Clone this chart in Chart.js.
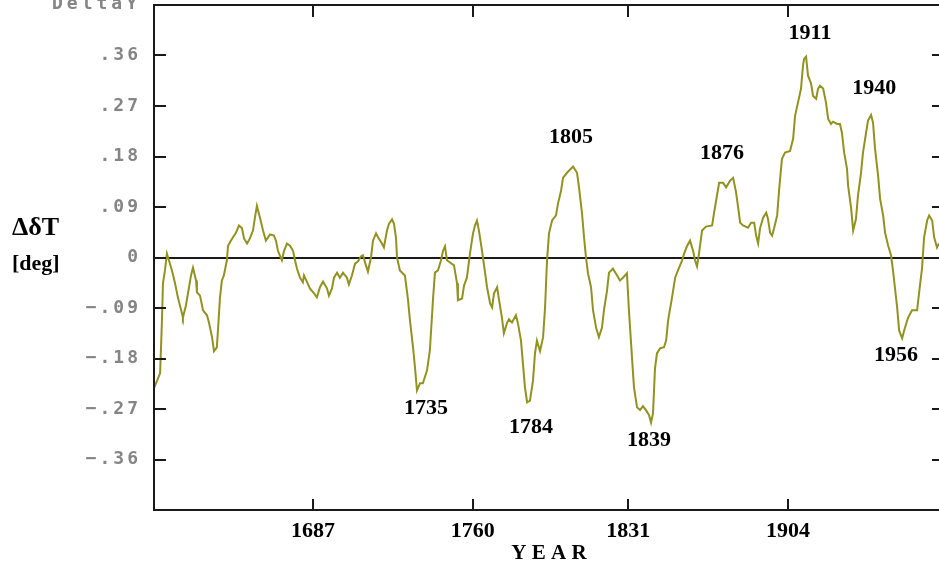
<!DOCTYPE html>
<html>
<head>
<meta charset="utf-8">
<script src="https://cdn.jsdelivr.net/npm/chart.js@4/dist/chart.umd.min.js"></script>
<style>
  html, body { margin: 0; padding: 0; overflow: hidden; background: #fff; }
  #wrap { width: 950px; height: 566px; }
</style>
</head>
<body>
<div id="wrap"><canvas id="chart" width="950" height="566"></canvas></div>
<script>
// Smoothed temperature anomaly, year vs. deviation in degrees
const years = [
  1614.4,1617.2,1618.0,1618.5,1619.4,1620.3,1622.6,1624.0,1625.3,1627.2,
  1627.6,1629.0,1630.4,1631.3,1632.2,1633.6,1634.0,1635.4,1636.8,1638.6,
  1639.5,1640.9,1641.8,1643.1,1643.6,1644.5,1645.4,1646.3,1647.7,1648.2,
  1649.5,1650.5,1651.8,1653.2,1654.6,1655.5,1656.9,1658.2,1659.6,1660.5,
  1661.4,1662.8,1664.2,1665.5,1667.4,1669.2,1670.1,1671.0,1672.8,1673.8,
  1675.1,1676.5,1677.9,1678.8,1679.7,1681.1,1682.4,1682.9,1684.3,1685.6,
  1687.5,1688.8,1690.2,1691.6,1693.4,1694.3,1695.7,1696.6,1698.0,1699.3,
  1700.7,1702.5,1703.4,1704.8,1706.2,1707.6,1708.9,1709.8,1711.2,1712.1,
  1713.5,1714.4,1715.8,1716.7,1718.5,1719.4,1720.8,1721.7,1723.1,1724.0,
  1724.9,1725.4,1726.7,1729.0,1730.4,1731.3,1732.7,1733.6,1734.5,1735.9,
  1737.2,1739.1,1740.4,1741.8,1742.7,1744.1,1745.5,1746.4,1747.3,1748.2,
  1749.6,1751.4,1752.8,1753.2,1755.1,1756.0,1757.3,1758.7,1760.1,1761.0,
  1761.9,1762.8,1764.2,1765.6,1766.5,1767.9,1768.8,1769.7,1771.1,1772.0,
  1773.3,1774.2,1775.6,1776.5,1777.9,1779.7,1780.6,1782.0,1782.9,1783.8,
  1784.8,1786.1,1787.5,1788.4,1789.3,1790.7,1792.1,1793.0,1793.9,1794.8,
  1796.2,1798.0,1798.9,1800.3,1801.2,1803.0,1805.8,1807.6,1808.5,1809.9,
  1810.8,1811.7,1812.6,1814.0,1814.9,1816.3,1817.6,1819.0,1819.9,1821.3,
  1822.2,1824.0,1825.9,1827.2,1828.6,1830.4,1831.3,1832.7,1833.6,1835.0,
  1836.4,1837.7,1839.1,1840.5,1841.4,1842.3,1843.2,1844.1,1845.5,1847.3,
  1848.3,1849.2,1851.0,1852.4,1853.7,1855.6,1856.5,1857.8,1859.2,1860.6,
  1861.5,1862.4,1863.3,1864.7,1866.5,1869.3,1870.2,1871.5,1872.5,1874.3,
  1875.7,1877.5,1878.9,1880.2,1881.2,1882.1,1883.4,1885.7,1887.1,1888.5,
  1889.4,1890.3,1891.2,1892.6,1894.0,1894.8,1895.8,1896.7,1897.6,1899.0,
  1899.9,1901.2,1902.6,1904.9,1906.3,1907.2,1908.5,1909.9,1910.8,1911.3,
  1912.2,1913.1,1914.5,1915.4,1916.8,1917.7,1918.6,1920.0,1921.3,1922.3,
  1923.6,1924.5,1926.4,1927.7,1928.6,1929.6,1930.9,1931.4,1932.8,1933.7,
  1935.0,1935.9,1937.3,1938.2,1939.6,1940.5,1941.9,1942.8,1943.7,1945.1,
  1946.0,1947.4,1948.3,1949.7,1951.0,1951.9,1953.8,1954.7,1956.1,1957.0,
  1958.8,1960.6,1962.9,1963.8,1965.2,1966.1,1967.5,1968.4,1969.8,1970.7,
  1972.0,1972.9
];
const deltaT = [
  -0.233,-0.206,-0.116,-0.046,-0.023,0.007,-0.023,-0.046,-0.071,-0.100,
  -0.107,-0.085,-0.053,-0.032,-0.018,-0.041,-0.062,-0.068,-0.094,-0.103,
  -0.116,-0.142,-0.167,-0.160,-0.130,-0.073,-0.041,-0.032,-0.005,0.021,
  0.030,0.036,0.044,0.057,0.052,0.034,0.025,0.034,0.048,0.071,
  0.092,0.071,0.048,0.030,0.041,0.039,0.030,0.012,-0.005,0.012,
  0.025,0.021,0.012,-0.005,-0.020,-0.036,-0.044,-0.032,-0.044,-0.055,
  -0.064,-0.071,-0.053,-0.043,-0.055,-0.068,-0.055,-0.036,-0.027,-0.036,
  -0.027,-0.036,-0.048,-0.032,-0.011,-0.007,0.002,0.004,-0.014,-0.025,
  0.000,0.030,0.043,0.036,0.025,0.018,0.048,0.060,0.068,0.060,
  0.036,0.000,-0.023,-0.032,-0.075,-0.112,-0.160,-0.196,-0.237,-0.224,
  -0.224,-0.201,-0.165,-0.076,-0.027,-0.023,-0.005,0.012,0.020,-0.005,
  -0.009,-0.014,-0.046,-0.076,-0.073,-0.050,-0.036,0.007,0.043,0.057,
  0.066,0.048,0.012,-0.027,-0.053,-0.082,-0.089,-0.064,-0.053,-0.076,
  -0.107,-0.135,-0.117,-0.110,-0.116,-0.103,-0.117,-0.148,-0.189,-0.231,
  -0.258,-0.255,-0.219,-0.171,-0.148,-0.167,-0.142,-0.089,-0.005,0.043,
  0.066,0.075,0.096,0.119,0.142,0.151,0.162,0.151,0.125,0.078,
  0.036,0.000,-0.028,-0.053,-0.094,-0.125,-0.142,-0.125,-0.094,-0.059,
  -0.027,-0.020,-0.032,-0.041,-0.036,-0.028,-0.094,-0.178,-0.231,-0.267,
  -0.272,-0.265,-0.272,-0.281,-0.294,-0.278,-0.198,-0.171,-0.162,-0.160,
  -0.148,-0.112,-0.071,-0.036,-0.023,-0.005,0.007,0.020,0.030,0.012,
  -0.005,-0.016,0.007,0.048,0.055,0.057,0.080,0.110,0.133,0.133,
  0.125,0.137,0.142,0.117,0.089,0.062,0.057,0.053,0.062,0.062,
  0.039,0.025,0.052,0.071,0.080,0.069,0.044,0.039,0.052,0.075,
  0.121,0.176,0.187,0.190,0.212,0.253,0.276,0.301,0.342,0.354,
  0.358,0.324,0.310,0.288,0.283,0.301,0.306,0.301,0.276,0.247,
  0.238,0.242,0.238,0.238,0.222,0.187,0.158,0.128,0.087,0.048,
  0.069,0.110,0.151,0.187,0.222,0.244,0.254,0.240,0.194,0.146,
  0.105,0.075,0.044,0.021,0.004,-0.023,-0.089,-0.130,-0.144,-0.130,
  -0.107,-0.094,-0.094,-0.064,-0.018,0.036,0.066,0.075,0.066,0.036,
  0.018,0.025
];

// Axis ticks
const xTickYears = [1687, 1760, 1831, 1904];
const yTickValues = [0.36, 0.27, 0.18, 0.09, 0, -0.09, -0.18, -0.27, -0.36];
const yTickLabels = ['.36', '.27', '.18', '.09', '0', '\u2212.09', '\u2212.18', '\u2212.27', '\u2212.36'];

// Years of the marked warm and cold extremes, with where their captions sit (year, deg)
const extremaText = ['1735', '1784', '1805', '1839', '1876', '1911', '1940', '1956'];
const extremaCaptionYear = [1738.6, 1786.6, 1804.9, 1840.5, 1873.8, 1914.0, 1943.3, 1953.3];
const extremaCaptionValue = [-0.269, -0.303, 0.215, -0.326, 0.185, 0.399, 0.302, -0.174];

const SERIF = '"Liberation Serif", "Times New Roman", serif';
const MONO = '"DejaVu Sans Mono", monospace';
const INK = '#1a1a1a';
const TICK_GREY = '#858585';

// Y tick labels are drawn with wide letter spacing
const spacedYLabels = {
  id: 'spacedYLabels',
  afterLayout(chart) {
    const s = chart.scales.y;
    if (s._spacedLabels) return;
    const orig = s.drawLabels;
    s.drawLabels = function (area) {
      const ctx = this.ctx;
      ctx.save();
      ctx.letterSpacing = '3px';
      orig.call(this, area);
      ctx.restore();
    };
    s._spacedLabels = true;
  }
};

// Frame with inward tick marks, extreme captions and the left caption
const frameAndCaptions = {
  id: 'frameAndCaptions',
  afterDatasetsDraw(chart) {
    const { ctx, chartArea: a, scales: { x, y } } = chart;
    ctx.save();
    ctx.strokeStyle = INK;
    ctx.lineWidth = 2;
    ctx.strokeRect(a.left, a.top, a.right - a.left, a.bottom - a.top);
    ctx.beginPath();
    yTickValues.forEach(v => {
      const py = Math.round(y.getPixelForValue(v));
      ctx.moveTo(a.left, py); ctx.lineTo(a.left + 12, py);
      ctx.moveTo(a.right, py); ctx.lineTo(a.right - 12, py);
    });
    xTickYears.forEach(t => {
      const px = Math.round(x.getPixelForValue(t));
      ctx.moveTo(px, a.top); ctx.lineTo(px, a.top + 12);
      ctx.moveTo(px, a.bottom); ctx.lineTo(px, a.bottom - 11);
    });
    ctx.stroke();

    ctx.fillStyle = '#000';
    ctx.font = 'bold 22px ' + SERIF;
    ctx.textAlign = 'center';
    ctx.textBaseline = 'middle';
    extremaText.forEach((t, i) => {
      ctx.fillText(t, x.getPixelForValue(extremaCaptionYear[i]), y.getPixelForValue(extremaCaptionValue[i]));
    });

    ctx.textAlign = 'left';
    ctx.textBaseline = 'alphabetic';
    ctx.font = 'bold 26px ' + SERIF;
    ctx.fillText('\u0394\u03b4T', 12, 235);
    ctx.font = 'bold 22px ' + SERIF;
    ctx.fillText('[deg]', 12, 270);

    ctx.fillStyle = TICK_GREY;
    ctx.font = 'bold 18px ' + MONO;
    ctx.letterSpacing = '4px';
    ctx.textAlign = 'right';
    ctx.fillText('DeltaY', 141, 9);
    ctx.restore();
  }
};

new Chart(document.getElementById('chart'), {
  type: 'line',
  data: {
    datasets: [{
      data: years.map((yr, i) => ({ x: yr, y: deltaT[i] })),
      borderColor: '#929220',
      borderWidth: 2,
      pointRadius: 0,
      tension: 0,
      fill: false
    }]
  },
  options: {
    responsive: false,
    animation: false,
    devicePixelRatio: 1,
    layout: { padding: { left: 0, top: 5, right: 6, bottom: 0 } },
    plugins: { legend: { display: false }, tooltip: { enabled: false } },
    scales: {
      x: {
        type: 'linear',
        min: 1614.4,
        max: 1975.2,
        afterBuildTicks: s => { s.ticks = xTickYears.map(v => ({ value: v })); },
        afterFit: s => { s.height = 56; s.paddingLeft = 0; s.paddingRight = 0; },
        grid: { display: false },
        border: { display: false },
        ticks: {
          padding: 0,
          color: '#000',
          font: { family: SERIF, size: 22, weight: 'bold' },
          callback: v => String(v)
        },
        title: {
          display: true,
          text: 'Y E A R',
          color: '#000',
          font: { family: SERIF, size: 21, weight: 'bold' },
          padding: { top: 0, bottom: 0 }
        }
      },
      y: {
        type: 'linear',
        min: -0.45,
        max: 0.45,
        afterBuildTicks: s => { s.ticks = yTickValues.map(v => ({ value: v })); },
        afterFit: s => { s.width = 154; s.paddingTop = 0; s.paddingBottom = 0; },
        border: { display: false },
        grid: {
          drawTicks: false,
          lineWidth: 2,
          color: c => (c.tick && c.tick.value === 0 ? INK : 'rgba(0,0,0,0)')
        },
        ticks: {
          padding: 13,
          color: TICK_GREY,
          font: { family: MONO, size: 18, weight: 'bold' },
          callback: v => {
            const i = yTickValues.findIndex(t => Math.abs(t - v) < 1e-9);
            return i >= 0 ? yTickLabels[i] : '';
          }
        }
      }
    }
  },
  plugins: [spacedYLabels, frameAndCaptions]
});
</script>
</body>
</html>
